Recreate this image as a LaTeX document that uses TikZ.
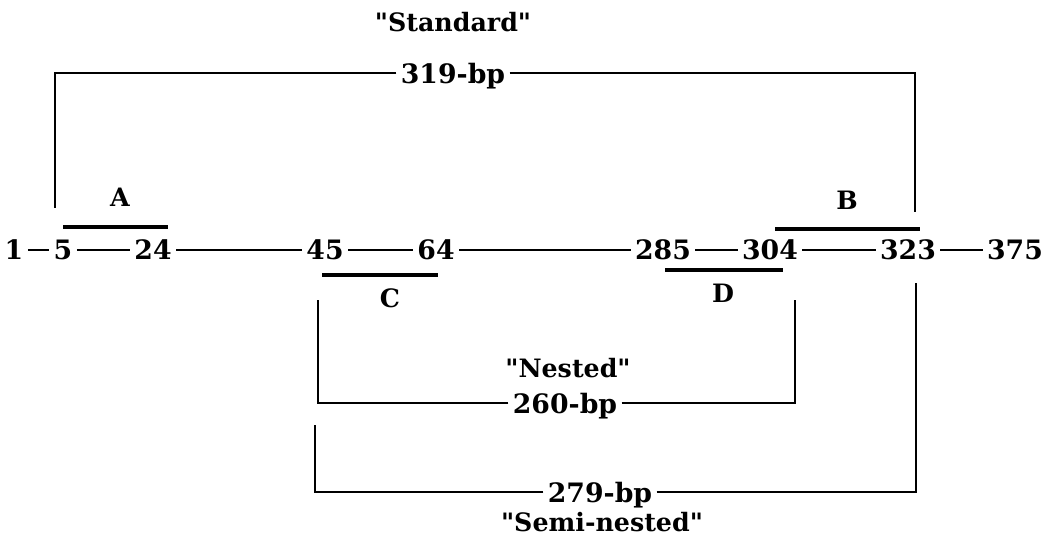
\documentclass[tikz,border=0pt]{standalone}
\usepackage{fontspec}
\setmainfont{DejaVu Serif}[Ligatures=TeXOff]
\usepackage{tikz}
\usetikzlibrary{positioning}

\begin{document}
\begin{tikzpicture}[x=0.025cm, y=-0.025cm,
    seq/.style={line width=2.1pt},
    primer/.style={line width=3pt},
    siteno/.style={font=\fontsize{19}{22}\selectfont\bfseries, inner sep=3pt, text depth=0pt},
    tag/.style={font=\fontsize{18}{21}\selectfont\bfseries, inner sep=2pt}]
\useasboundingbox (0,0) rectangle (1044,537);
% Sequence positions
\node[siteno] (p1) at (14,250) {1};
\node[siteno] (p5) at (63,250) {5};
\node[siteno] (p24) at (153,250) {24};
\node[siteno] (p45) at (325,250) {45};
\node[siteno] (p64) at (436,250) {64};
\node[siteno] (p285) at (663,250) {285};
\node[siteno] (p304) at (770,250) {304};
\node[siteno] (p323) at (908,250) {323};
\node[siteno] (p375) at (1015,250) {375};
\draw[seq] (p1) -- (p5);
\draw[seq] (p5) -- (p24);
\draw[seq] (p24) -- (p45);
\draw[seq] (p45) -- (p64);
\draw[seq] (p64) -- (p285);
\draw[seq] (p285) -- (p304);
\draw[seq] (p304) -- (p323);
\draw[seq] (p323) -- (p375);
% Primers
\draw[primer] (63,227) -- (168,227);
\node[tag] (lA) at (120,197) {A};
\draw[primer] (775,229) -- (920,229);
\node[tag] (lB) at (847,200) {B};
\draw[primer] (322,275) -- (438,275);
\node[tag] (lC) at (390,298) {C};
\draw[primer] (665,270) -- (783,270);
\node[tag] (lD) at (723,293) {D};
% Standard product
\node[tag] (std) at (453,22) {"Standard"};
\node[siteno] (bpS) at (453,73) {319-bp};
\coordinate (stdL) at (55,208);
\coordinate (stdR) at (915,212);
\draw[seq] (bpS.west) -| (stdL);
\draw[seq] (bpS.east) -| (stdR);
% Nested product
\node[tag] (nst) at (568,368) {"Nested"};
\node[siteno] (bpN) at (565,403) {260-bp};
\coordinate (nstL) at (318,300);
\coordinate (nstR) at (795,300);
\draw[seq] (bpN.west) -| (nstL);
\draw[seq] (bpN.east) -| (nstR);
% Semi-nested product
\node[siteno] (bpM) at (600,492) {279-bp};
\node[tag] (semi) at (602,522) {"Semi-nested"};
\coordinate (semiL) at (315,425);
\coordinate (semiR) at (916,283);
\draw[seq] (bpM.west) -| (semiL);
\draw[seq] (bpM.east) -| (semiR);
\end{tikzpicture}
\end{document}
